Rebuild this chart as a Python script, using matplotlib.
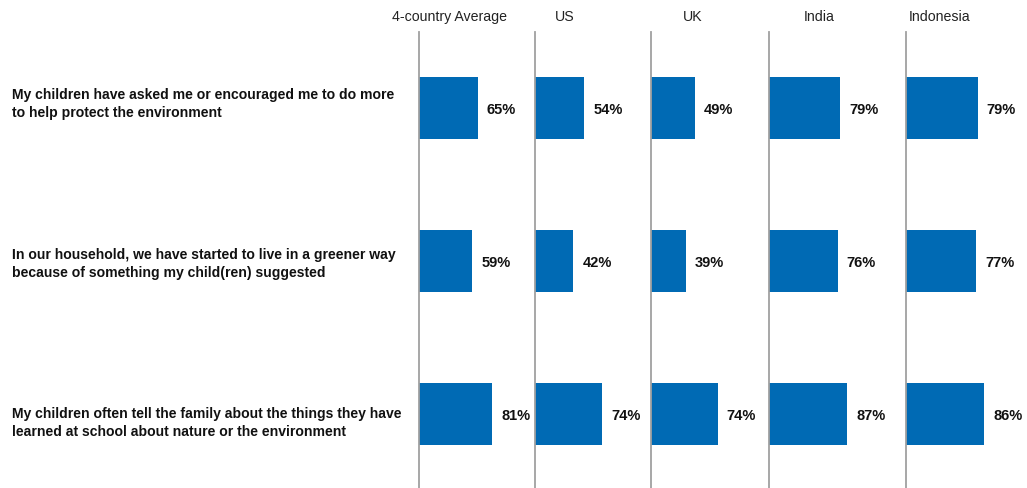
import matplotlib.pyplot as plt

plt.rcParams['font.family'] = ['Liberation Sans', 'DejaVu Sans']

# Survey statements and share of parents agreeing, by country
statements = [
    "My children have asked me or encouraged me to do more\nto help protect the environment",
    "In our household, we have started to live in a greener way\nbecause of something my child(ren) suggested",
    "My children often tell the family about the things they have\nlearned at school about nature or the environment",
]
countries = ["4-country Average", "US", "UK", "India", "Indonesia"]
avg_vals = [65, 59, 81]
us_vals = [54, 42, 74]
uk_vals = [49, 39, 74]
india_vals = [79, 76, 87]
indonesia_vals = [79, 77, 86]
all_vals = [avg_vals, us_vals, uk_vals, india_vals, indonesia_vals]

W, H = 1027, 488
fig = plt.figure(figsize=(W / 100, H / 100), dpi=100)

bar_color = '#006AB4'
panel_left = [418.7, 535.3, 650.5, 768.5, 906.0]   # px
title_x = [392, 555, 683, 804, 909]               # px, left edge of headings
px_per_pct = 0.908
top_px, bottom_px = 32, 488

for i, (name, vals) in enumerate(zip(countries, all_vals)):
    ax = fig.add_axes([panel_left[i] / W, 1 - bottom_px / H,
                       100 * px_per_pct / W, (bottom_px - top_px) / H])
    ax.barh(range(len(vals)), vals, height=0.40, color=bar_color)
    ax.set_xlim(0, 100)
    ax.set_ylim(2.484, -0.497)
    for r, v in enumerate(vals):
        ax.annotate(f"{v}%", (v, r), xytext=(6.5, -1.5), textcoords='offset points',
                    ha='left', va='center', fontsize=10.5, fontweight='bold',
                    color='#111111')
    for s in ['top', 'right', 'bottom']:
        ax.spines[s].set_visible(False)
    ax.spines['left'].set_color('#A0A0A0')
    ax.spines['left'].set_linewidth(1.3)
    ax.set_xticks([])
    ax.set_yticks([])
    ax.patch.set_alpha(0)
    fig.text(title_x[i] / W, 1 - 17 / H, name, ha='left', va='center',
             fontsize=10.2, color='#222222')

# statement labels on the left
label_y = [104, 264, 423]
for txt, y in zip(statements, label_y):
    fig.text(12 / W, 1 - y / H, txt, ha='left', va='center', fontsize=10.1,
             fontweight='bold', color='#111111', linespacing=1.3)

fig.savefig('out.png', dpi=100)
